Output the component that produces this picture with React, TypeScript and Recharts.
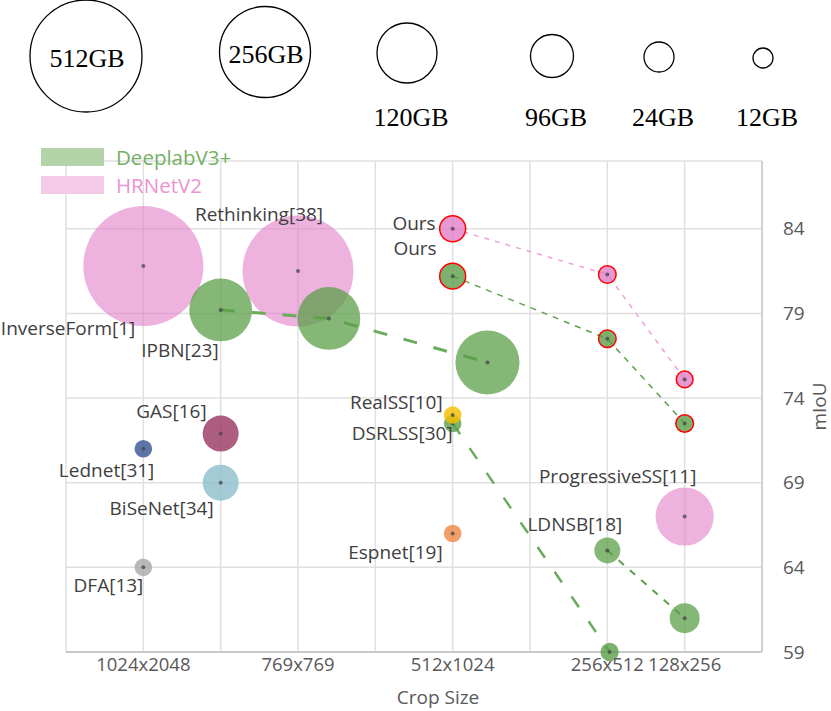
import { ScatterChart, Scatter, XAxis, YAxis, ZAxis, CartesianGrid, Legend, Label } from 'recharts';

type Pt = { name?: string; crop: number; miou: number; mem: number };

// crop size axis: positions 1..8, only some carry a label
const cropTicks = [1, 2, 3, 4, 5, 6, 7, 8];
const cropTickLabels = ['1024x2048', '', '769x769', '', '512x1024', '', '256x512', '128x256'];
const miouTicks = [59, 64, 69, 74, 79, 84];

// memory legend (GB)
const memLegend = [512, 256, 120, 96, 24, 12];

const families = ['DeeplabV3+', 'HRNetV2'];

const hrnetOurs: Pt[] = [
  { name: 'Ours', crop: 5, miou: 84.0, mem: 24 },
  { crop: 7, miou: 81.3, mem: 11 },
  { crop: 8, miou: 75.1, mem: 10 },
];
const deeplabOurs: Pt[] = [
  { name: 'Ours', crop: 5, miou: 81.2, mem: 24 },
  { crop: 7, miou: 77.5, mem: 11 },
  { crop: 8, miou: 72.5, mem: 11 },
];
const deeplabIpbn: Pt[] = [
  { name: 'IPBN[23]', crop: 2, miou: 79.2, mem: 140 },
  { crop: 3.4, miou: 78.7, mem: 140 },
  { crop: 5.45, miou: 76.1, mem: 146 },
];
const deeplabDsrlss: Pt[] = [
  { name: 'DSRLSS[30]', crop: 5, miou: 72.5, mem: 11 },
  { crop: 7.03, miou: 59.0, mem: 12 },
];
const deeplabLdnsb: Pt[] = [
  { name: 'LDNSB[18]', crop: 7, miou: 65.0, mem: 24 },
  { crop: 8, miou: 61.0, mem: 32 },
];
const hrnetOthers: Pt[] = [
  { name: 'InverseForm[1]', crop: 1, miou: 81.8, mem: 512 },
  { name: 'Rethinking[38]', crop: 3, miou: 81.5, mem: 438 },
  { name: 'ProgressiveSS[11]', crop: 8, miou: 67.0, mem: 120 },
];
const otherModels: Pt[] = [
  { name: 'GAS[16]', crop: 2, miou: 71.9, mem: 46 },
  { name: 'Lednet[31]', crop: 1, miou: 71.0, mem: 11 },
  { name: 'BiSeNet[34]', crop: 2, miou: 69.0, mem: 46 },
  { name: 'DFA[13]', crop: 1, miou: 64.0, mem: 11 },
  { name: 'Espnet[19]', crop: 5, miou: 66.0, mem: 11 },
  { name: 'RealSS[10]', crop: 5, miou: 73.0, mem: 11 },
];

const GREEN = '#5c9f4a';
const PINK = '#e27fc8';
const otherColors: Record<string, string> = {
  'GAS[16]': '#9b3a64',
  'Lednet[31]': '#3b5894',
  'BiSeNet[34]': '#8dbfcd',
  'DFA[13]': '#aaaaaa',
  'Espnet[19]': '#ee8a45',
  'RealSS[10]': '#f5c000',
};

type Place = { dx: number; dy: number; anchor: 'start' | 'middle' | 'end' };
const labelPlace: Record<string, Place> = {
  'InverseForm[1]': { dx: -8, dy: 62, anchor: 'end' },
  'Rethinking[38]': { dx: -39, dy: -57, anchor: 'middle' },
  'ProgressiveSS[11]': { dx: -67, dy: -41, anchor: 'middle' },
  'IPBN[23]': { dx: -2, dy: 40, anchor: 'end' },
  'DSRLSS[30]': { dx: 0, dy: 10, anchor: 'end' },
  'LDNSB[18]': { dx: 15, dy: -26, anchor: 'end' },
  'GAS[16]': { dx: -14, dy: -23, anchor: 'end' },
  'Lednet[31]': { dx: 11, dy: 21, anchor: 'end' },
  'BiSeNet[34]': { dx: -7, dy: 25, anchor: 'end' },
  'DFA[13]': { dx: 0, dy: 18, anchor: 'end' },
  'Espnet[19]': { dx: -10, dy: 19, anchor: 'end' },
  'RealSS[10]': { dx: -10, dy: -13, anchor: 'end' },
};
const hrOursPlace: Record<string, Place> = { Ours: { dx: -17, dy: -6, anchor: 'end' } };
const dlOursPlace: Record<string, Place> = { Ours: { dx: -16, dy: -28, anchor: 'end' } };

const makeShape =
  (fill: string | null, opacity: number, places: Record<string, Place>, ring = false) =>
  (props: any) => {
    const { cx, cy, size, width, payload } = props;
    const r = size != null ? Math.sqrt(size / Math.PI) : width / 2;
    const color = fill ?? otherColors[payload.name] ?? '#999';
    const lab = payload.name ? places[payload.name] : undefined;
    return (
      <g>
        <circle
          cx={cx}
          cy={cy}
          r={r}
          fill={color}
          fillOpacity={opacity}
          stroke={ring ? '#ff0000' : 'none'}
          strokeWidth={1.5}
        />
        <circle cx={cx} cy={cy} r={2} fill="#444" fillOpacity={0.75} />
        {lab && (
          <text
            x={cx + lab.dx}
            y={cy + lab.dy}
            textAnchor={lab.anchor}
            dominantBaseline="central"
            fontSize={19}
            fill="#404040"
            fontFamily="'Open Sans', sans-serif"
          >
            {payload.name}
          </text>
        )}
      </g>
    );
  };

const FamilyLegend = () => {
  const rectColors = ['#b3d3a8', '#f4cbe7'];
  const textColors = ['#74b064', '#ec93d2'];
  return (
    <div style={{ fontFamily: "'Open Sans', sans-serif" }}>
      {families.map((f, i) => (
        <div key={f} style={{ display: 'flex', alignItems: 'center', height: 28 }}>
          <div style={{ width: 63, height: 18, background: rectColors[i] }} />
          <span style={{ marginLeft: 12, fontSize: 20.5, color: textColors[i] }}>{f}</span>
        </div>
      ))}
    </div>
  );
};

const MemLegend = () => {
  const cxs = [86, 265, 407, 552, 659, 763];
  const cys = [56, 52, 53, 56, 57, 58];
  const rs = [56, 45.5, 30, 21.5, 15, 10];
  return (
    <svg width={831} height={135} style={{ position: 'absolute', left: 0, top: 0 }}>
      {memLegend.map((gb, i) => (
        <g key={gb}>
          <circle cx={cxs[i]} cy={cys[i]} r={rs[i]} fill="none" stroke="#000" strokeWidth={1.3} />
          <text
            x={i < 2 ? cxs[i] + 1 : cxs[i] + 4}
            y={i < 2 ? cys[i] + 2 : 117}
            textAnchor="middle"
            dominantBaseline="central"
            fontFamily="'Liberation Serif', serif"
            fontSize={26}
            fill="#000"
          >
            {gb}GB
          </text>
        </g>
      ))}
    </svg>
  );
};

export default function App() {
  return (
    <div style={{ position: 'absolute', left: 0, top: 0, width: 831, height: 711, background: '#fff' }}>
      <ScatterChart
        width={831}
        height={711}
        margin={{ top: 161, left: 66, right: 0, bottom: 0 }}
        style={{ fontFamily: "'Open Sans', sans-serif" }}
      >
        <CartesianGrid stroke="#e0e0e0" strokeWidth={1.5} />
        <XAxis
          type="number"
          dataKey="crop"
          domain={[0, 9]}
          ticks={cropTicks}
          tickFormatter={(v: number) => cropTickLabels[v - 1] ?? ''}
          height={59}
          tickLine={false}
          tickSize={0}
          tickMargin={6}
          axisLine={{ stroke: '#c8c8c8', strokeWidth: 2 }}
          tick={{ fill: '#595959', fontSize: 18.5 }}
          interval={0}
        >
          <Label
            content={(p: any) => {
              const vb = p.viewBox;
              return (
                <text
                  x={vb.x + vb.width / 2 + 24}
                  y={vb.y + 45}
                  textAnchor="middle"
                  dominantBaseline="central"
                  fontSize={19}
                  fill="#595959"
                >
                  Crop Size
                </text>
              );
            }}
          />
        </XAxis>
        <YAxis
          type="number"
          dataKey="miou"
          orientation="right"
          domain={[59, 88]}
          ticks={miouTicks}
          width={69}
          tickLine={false}
          tickSize={0}
          tickMargin={21}
          axisLine={{ stroke: '#d0d0d0', strokeWidth: 2 }}
          tick={{ fill: '#595959', fontSize: 19 }}
          interval={0}
        >
          <Label
            content={(p: any) => {
              const vb = p.viewBox;
              const x = vb.x + 57;
              const y = vb.y + vb.height / 2;
              return (
                <text
                  x={x}
                  y={y}
                  transform={`rotate(-90 ${x} ${y})`}
                  textAnchor="middle"
                  dominantBaseline="central"
                  fontSize={19}
                  fill="#595959"
                >
                  mIoU
                </text>
              );
            }}
          />
        </YAxis>
        <ZAxis type="number" dataKey="mem" domain={[0, 512]} range={[0, Math.PI * 3600]} />
        <Legend
          layout="vertical"
          align="center"
          verticalAlign="middle"
          wrapperStyle={{ left: 41, top: 143 }}
          content={() => <FamilyLegend />}
        />

        <Scatter data={hrnetOthers} shape={makeShape(PINK, 0.6, labelPlace)} isAnimationActive={false} />
        <Scatter
          data={deeplabIpbn}
          shape={makeShape(GREEN, 0.75, labelPlace)}
          line={{ stroke: '#6aab5c', strokeWidth: 3, strokeDasharray: '14 17' }}
          lineJointType="linear"
          isAnimationActive={false}
        />
        <Scatter
          data={deeplabDsrlss}
          shape={makeShape(GREEN, 0.8, labelPlace)}
          line={{ stroke: '#6aab5c', strokeWidth: 2.5, strokeDasharray: '13 17' }}
          lineJointType="linear"
          isAnimationActive={false}
        />
        <Scatter
          data={deeplabLdnsb}
          shape={makeShape(GREEN, 0.75, labelPlace)}
          line={{ stroke: '#5c9f4a', strokeWidth: 2, strokeDasharray: '7 8' }}
          lineJointType="linear"
          isAnimationActive={false}
        />
        <Scatter data={otherModels} shape={makeShape(null, 0.82, labelPlace)} isAnimationActive={false} />
        <Scatter
          data={deeplabOurs}
          shape={makeShape(GREEN, 0.8, dlOursPlace, true)}
          line={{ stroke: '#5c9f4a', strokeWidth: 1.5, strokeDasharray: '6 6' }}
          lineJointType="linear"
          isAnimationActive={false}
        />
        <Scatter
          data={hrnetOurs}
          shape={makeShape(PINK, 0.8, hrOursPlace, true)}
          line={{ stroke: '#f0a0dc', strokeWidth: 1.5, strokeDasharray: '5 6' }}
          lineJointType="linear"
          isAnimationActive={false}
        />
      </ScatterChart>
      <MemLegend />
    </div>
  );
}
